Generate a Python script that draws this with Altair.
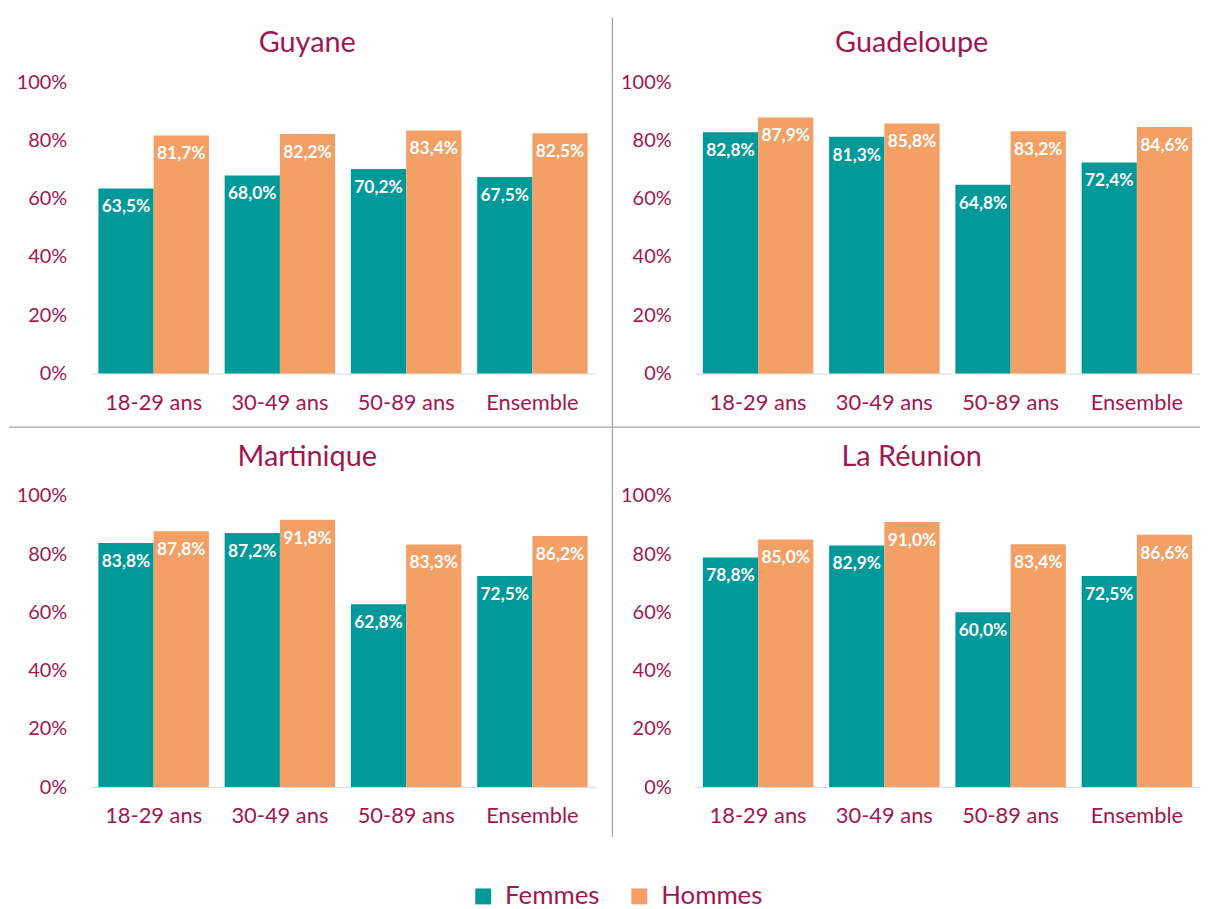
import altair as alt
import pandas as pd

FONT = "Lato"
CRIMSON = "#A0174F"
TEAL = "#009999"
ORANGE = "#F2A065"

regions = ["Guyane", "Guadeloupe", "Martinique", "La Réunion"]
ages = ["18-29 ans", "30-49 ans", "50-89 ans", "Ensemble"]
sexes = ["Femmes", "Hommes"]

femmes_guyane = [63.5, 68.0, 70.2, 67.5]
hommes_guyane = [81.7, 82.2, 83.4, 82.5]
femmes_guadeloupe = [82.8, 81.3, 64.8, 72.4]
hommes_guadeloupe = [87.9, 85.8, 83.2, 84.6]
femmes_martinique = [83.8, 87.2, 62.8, 72.5]
hommes_martinique = [87.8, 91.8, 83.3, 86.2]
femmes_reunion = [78.8, 82.9, 60.0, 72.5]
hommes_reunion = [85.0, 91.0, 83.4, 86.6]

series = {
    "Guyane": (femmes_guyane, hommes_guyane),
    "Guadeloupe": (femmes_guadeloupe, hommes_guadeloupe),
    "Martinique": (femmes_martinique, hommes_martinique),
    "La Réunion": (femmes_reunion, hommes_reunion),
}

rows = []
for r in regions:
    f, h = series[r]
    for i, a in enumerate(ages):
        for s, vals in (("Femmes", f), ("Hommes", h)):
            v = vals[i]
            rows.append({"region": r, "age": a, "sexe": s, "value": v,
                         "label": f"{v:.1f}".replace(".", ",") + "%"})
df = pd.DataFrame(rows)

W, H = 508, 293

color = alt.Color(
    "sexe:N",
    scale=alt.Scale(domain=sexes, range=[TEAL, ORANGE]),
    legend=alt.Legend(
        title=None, orient="none", direction="horizontal",
        legendX=382, legendY=806,
        symbolType="square", symbolSize=256, symbolStrokeWidth=0,
        labelFontSize=26, labelColor=CRIMSON, labelFont=FONT,
        columnPadding=26, labelOffset=9,
    ),
)

x_enc = alt.X(
    "age:N", sort=ages,
    scale=alt.Scale(paddingInner=0.125, paddingOuter=0.0625),
    axis=alt.Axis(title=None, labelAngle=0, labelFontSize=22, labelColor=CRIMSON,
                  labelFont=FONT, labelPadding=19, domainColor="#D9D9D9",
                  domainWidth=1, ticks=False, grid=False),
)
y_enc = alt.Y(
    "value:Q",
    scale=alt.Scale(domain=[0, 100]),
    axis=alt.Axis(title=None, values=[0, 20, 40, 60, 80, 100],
                  labelExpr="datum.value + '%'", domain=False, ticks=False,
                  grid=False, labelFontSize=20, labelColor=CRIMSON,
                  labelFont=FONT, labelPadding=24),
)
xoff = alt.XOffset("sexe:N", sort=sexes, scale=alt.Scale(paddingInner=0, paddingOuter=0))


def panel(region, dividers=False):
    base = alt.Chart(df[df.region == region])
    bars = base.mark_bar().encode(x=x_enc, xOffset=xoff, y=y_enc, color=color)
    labels = base.mark_text(
        baseline="middle", dy=19, color="white", fontWeight="bold",
        fontSize=17.5, font=FONT,
    ).encode(x=x_enc, xOffset=xoff, y=y_enc, text="label:N")
    title = alt.Chart(pd.DataFrame({"t": [region]})).mark_text(
        fontSize=29, color=CRIMSON, font=FONT, baseline="middle", align="center"
    ).encode(x=alt.value(218), y=alt.value(-39), text="t:N")
    layers = [bars, labels, title]
    if dividers:
        d = alt.Chart(pd.DataFrame({"d": [0]}))
        vline = d.mark_rule(color="#A6A6A6", strokeWidth=1.3).encode(
            x=alt.value(525), y=alt.value(-65), y2=alt.value(759))
        hline = d.mark_rule(color="#A6A6A6", strokeWidth=1.3).encode(
            x=alt.value(-82), x2=alt.value(1116), y=alt.value(347))
        layers += [vline, hline]
    return alt.layer(*layers).properties(width=W, height=H)


chart = alt.concat(
    panel("Guyane", dividers=True), panel("Guadeloupe"),
    panel("Martinique"), panel("La Réunion"),
    columns=2, spacing={"row": 123, "column": 100}, bounds="flush",
).properties(
    padding={"left": 0, "top": 6, "right": 0, "bottom": 0}
).configure(font=FONT).configure_view(stroke=None)

chart.save("out.html", embed_options={"renderer": "svg", "actions": False})
